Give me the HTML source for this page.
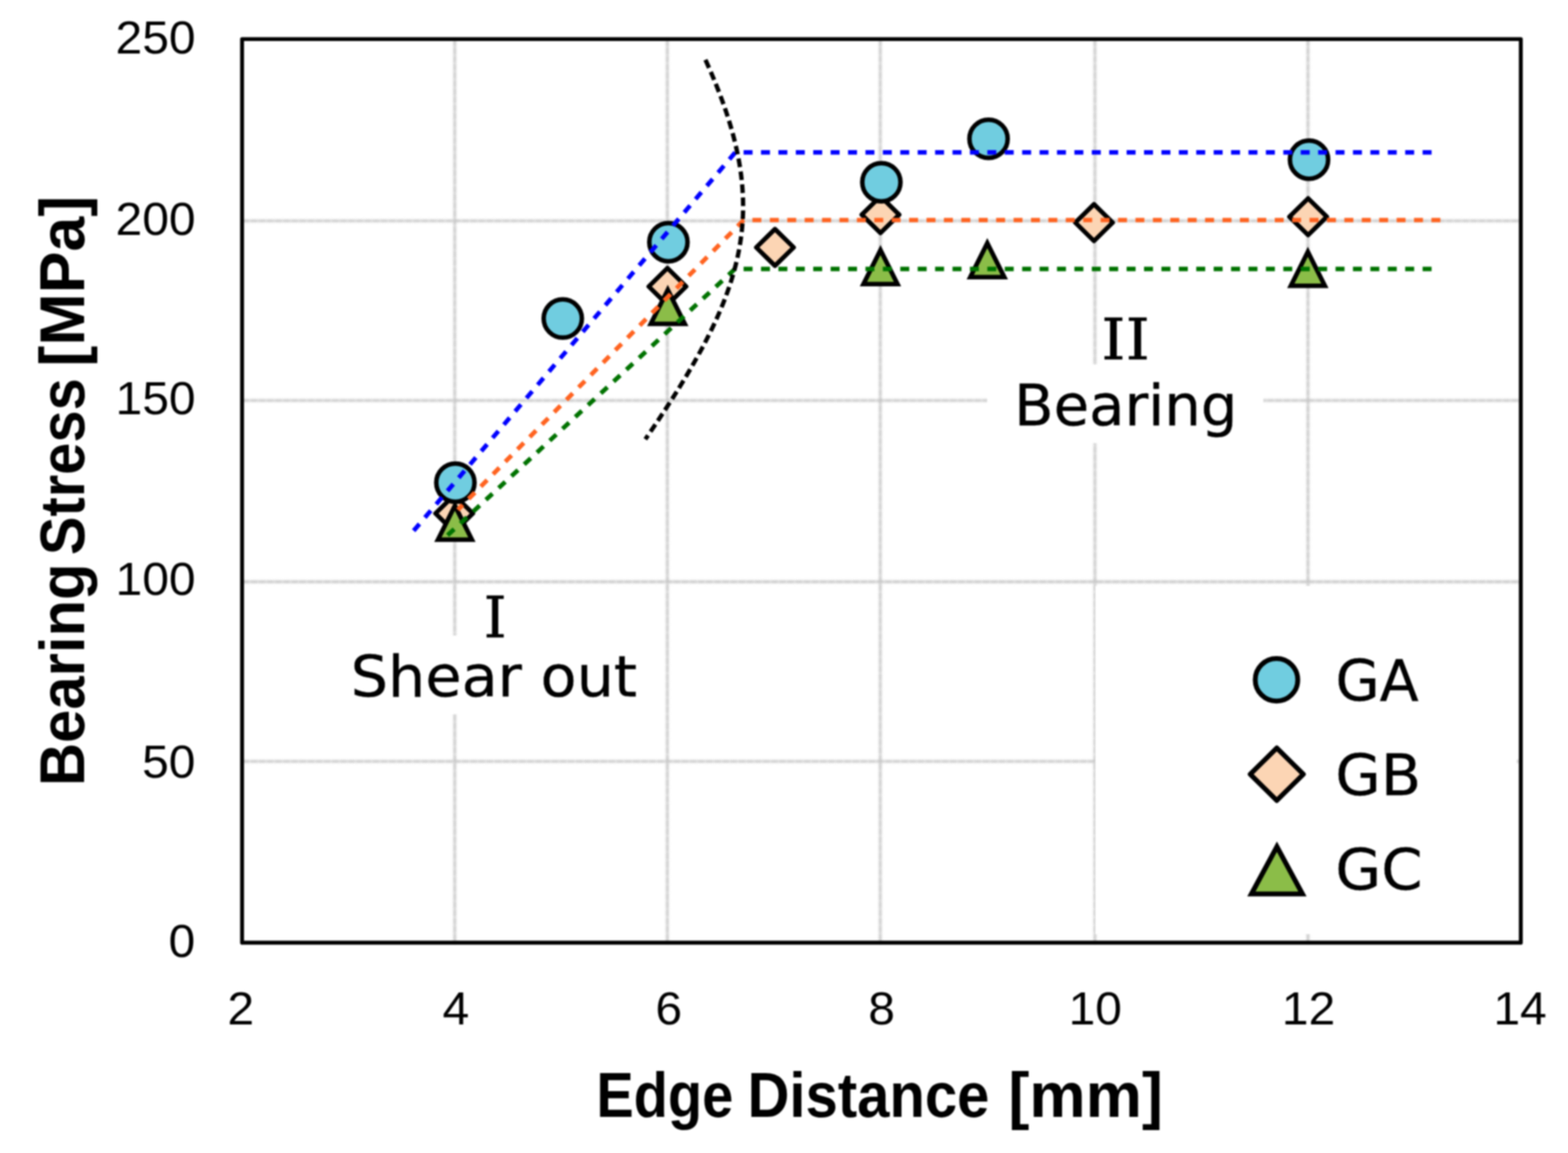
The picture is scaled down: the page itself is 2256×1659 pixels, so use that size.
<!DOCTYPE html>
<html lang="en"><head><meta charset="utf-8"><title>Bearing Stress vs Edge Distance</title>
<style>
html,body{margin:0;padding:0;background:#fff;}
body{width:2256px;height:1659px;overflow:hidden;}
svg{display:block;}
text{fill:#000;}
.tick{font-family:"Liberation Sans",sans-serif;font-size:67px;}
.title{font-family:"Liberation Sans",sans-serif;font-weight:bold;font-size:90px;}
.ann{font-family:"DejaVu Sans","Liberation Sans",sans-serif;font-size:82px;stroke:#000;stroke-width:0.5px;}
.rom{font-family:"DejaVu Serif","Liberation Serif",serif;font-size:82px;stroke:#000;stroke-width:0.7px;}
</style></head><body>
<svg width="2256" height="1659" viewBox="0 0 2256 1659">
<defs><filter id="soft" color-interpolation-filters="sRGB" filterUnits="userSpaceOnUse" x="0" y="0" width="2256" height="1659"><feGaussianBlur stdDeviation="1.0"/></filter>
<filter id="gsoft" color-interpolation-filters="sRGB" filterUnits="userSpaceOnUse" x="0" y="0" width="2256" height="1659"><feGaussianBlur stdDeviation="1.5"/></filter></defs>
<rect width="2256" height="1659" fill="#fff"/>
<g filter="url(#soft)">

<g stroke="#c4c4c4" stroke-width="3.6" fill="none" stroke-dasharray="10.9 0.8" filter="url(#gsoft)">
<line x1="654.3" y1="56.3" x2="654.3" y2="1356.4"/>
<line x1="960.2" y1="56.3" x2="960.2" y2="1356.4"/>
<line x1="1266.5" y1="56.3" x2="1266.5" y2="1356.4"/>
<line x1="1575.4" y1="56.3" x2="1575.4" y2="1356.4"/>
<line x1="1881.9" y1="56.3" x2="1881.9" y2="1356.4"/>
<line x1="348.3" y1="317.8" x2="2188.1" y2="317.8"/>
<line x1="348.3" y1="576.2" x2="2188.1" y2="576.2"/>
<line x1="348.3" y1="837.1" x2="2188.1" y2="837.1"/>
<line x1="348.3" y1="1095.5" x2="2188.1" y2="1095.5"/>
</g>
<g fill="#fff">
<rect x="1420.3" y="524.4" width="397.4" height="113.2"/>
<rect x="464" y="914.4" width="492" height="113.2"/>
<rect x="1576" y="843" width="606" height="501"/>
</g>
<rect x="348.3" y="56.3" width="1839.8" height="1300.1" fill="none" stroke="#000" stroke-width="5.6" stroke-linejoin="round"/>
<path d="M626.6 738.8L653.5 712.4L680.4 738.8L653.5 765.2Z" fill="#fcd5b4" stroke="#000" stroke-width="6.5" stroke-linejoin="round"/>
<path d="M933.4 412.2L960.3 385.8L987.2 412.2L960.3 438.6Z" fill="#fcd5b4" stroke="#000" stroke-width="6.5" stroke-linejoin="round"/>
<path d="M1088.1 356L1115 329.6L1141.9 356L1115 382.4Z" fill="#fcd5b4" stroke="#000" stroke-width="6.5" stroke-linejoin="round"/>
<path d="M1239.9 308.9L1266.8 282.5L1293.7 308.9L1266.8 335.3Z" fill="#fcd5b4" stroke="#000" stroke-width="6.5" stroke-linejoin="round"/>
<path d="M1547.1 320.3L1574 293.9L1600.9 320.3L1574 346.7Z" fill="#fcd5b4" stroke="#000" stroke-width="6.5" stroke-linejoin="round"/>
<path d="M1855.2 311.9L1882.1 285.5L1909.0 311.9L1882.1 338.3Z" fill="#fcd5b4" stroke="#000" stroke-width="6.5" stroke-linejoin="round"/>
<circle cx="655.2" cy="694.4" r="27.5" fill="#70cde0" stroke="#000" stroke-width="6.5"/>
<circle cx="809.7" cy="458.3" r="27.5" fill="#70cde0" stroke="#000" stroke-width="6.5"/>
<circle cx="961.7" cy="348.4" r="27.5" fill="#70cde0" stroke="#000" stroke-width="6.5"/>
<circle cx="1268.1" cy="262.2" r="27.5" fill="#70cde0" stroke="#000" stroke-width="6.5"/>
<circle cx="1422.3" cy="199.7" r="27.5" fill="#70cde0" stroke="#000" stroke-width="6.5"/>
<circle cx="1883.4" cy="229.7" r="27.5" fill="#70cde0" stroke="#000" stroke-width="6.5"/>
<path d="M630.0 776.6L654.5 727.6L679.0 776.6Z" fill="#8bbd48" stroke="#000" stroke-width="6.5" stroke-linejoin="miter"/>
<path d="M936.3 466L960.8 417.0L985.3 466Z" fill="#8bbd48" stroke="#000" stroke-width="6.5" stroke-linejoin="miter"/>
<path d="M1242.3 408.7L1266.8 359.7L1291.3 408.7Z" fill="#8bbd48" stroke="#000" stroke-width="6.5" stroke-linejoin="miter"/>
<path d="M1396.0 398.7L1420.5 349.7L1445.0 398.7Z" fill="#8bbd48" stroke="#000" stroke-width="6.5" stroke-linejoin="miter"/>
<path d="M1857.2 411.3L1881.7 362.3L1906.2 411.3Z" fill="#8bbd48" stroke="#000" stroke-width="6.5" stroke-linejoin="miter"/>
<path d="M2059.7 219.2L1058 219.2L594 765" stroke="#0000ff" stroke-width="6.4" fill="none" stroke-dasharray="12.9 12.15"/>
<path d="M2072.4 316.6L1070 316.6L658.8 733.5" stroke="#ff6320" stroke-width="6.4" fill="none" stroke-dasharray="12.9 12.15"/>
<path d="M2059.7 387L1057.5 387L644 770.2" stroke="#007200" stroke-width="6.4" fill="none" stroke-dasharray="12.9 12.15"/>
<path d="M1015 86C1110.7 298 1078.2 414.2 928.5 632" stroke="#000" stroke-width="6.2" fill="none" stroke-dasharray="12.4 6.37"/>
<circle cx="1836.6" cy="978.2" r="30.6" fill="#70cde0" stroke="#000" stroke-width="7.0"/>
<path d="M1798.8 1114L1837 1076.2L1875.2 1114L1837 1151.8Z" fill="#fcd5b4" stroke="#000" stroke-width="7.0" stroke-linejoin="round"/>
<path d="M1800.5 1286.2L1837.2 1218.2L1873.9 1286.2Z" fill="#8bbd48" stroke="#000" stroke-width="7.1" stroke-linejoin="miter"/>
<text class="tick" transform="translate(242.6 1377.0) scale(1.0300 1)">0</text>
<text class="tick" transform="translate(166.3 76.9) scale(1.0300 1)">250</text>
<text class="tick" transform="translate(166.3 338.0) scale(1.0300 1)">200</text>
<text class="tick" transform="translate(166.3 595.8) scale(1.0300 1)">150</text>
<text class="tick" transform="translate(166.3 855.8) scale(1.0300 1)">100</text>
<text class="tick" transform="translate(204.4 1118.5) scale(1.0300 1)">50</text>
<text class="tick" transform="translate(327.3 1474.3) scale(1.0300 1)">2</text>
<text class="tick" transform="translate(2148.7 1474.3) scale(1.0300 1)">14</text>
<text class="tick" transform="translate(636.7 1474.3) scale(1.0300 1)">4</text>
<text class="tick" transform="translate(942.9 1474.3) scale(1.0300 1)">6</text>
<text class="tick" transform="translate(1249.2 1474.3) scale(1.0300 1)">8</text>
<text class="tick" transform="translate(1537.5 1474.3) scale(1.0300 1)">10</text>
<text class="tick" transform="translate(1844.3 1474.3) scale(1.0300 1)">12</text>
<text class="title" y="1606.7"><tspan x="858.1" textLength="197.1" lengthAdjust="spacingAndGlyphs">Edge</tspan> <tspan x="1075.6" textLength="347.9" lengthAdjust="spacingAndGlyphs">Distance</tspan> <tspan x="1450.7" textLength="222.6" lengthAdjust="spacingAndGlyphs">[mm]</tspan></text>
<text class="title" transform="rotate(-90)" y="121.0"><tspan x="-1131.1" textLength="320.5" lengthAdjust="spacingAndGlyphs">Bearing</tspan> <tspan x="-798.8" textLength="254.6" lengthAdjust="spacingAndGlyphs">Stress</tspan> <tspan x="-527.4" textLength="245.8" lengthAdjust="spacingAndGlyphs">[MPa]</tspan></text>
<text class="rom" transform="translate(695.7 917.2) scale(1.0261 1)">I</text>
<text class="ann" transform="translate(504.6 1002) scale(1.0332 1)">Shear out</text>
<text class="rom" transform="translate(1584.6 516.5) scale(1.0764 1)">II</text>
<text class="ann" transform="translate(1459.1 612) scale(1.0123 1)">Bearing</text>
<text class="ann" transform="translate(1921.4 1008.1) scale(1.0009 1)">GA</text>
<text class="ann" transform="translate(1921.2 1144.1) scale(1.0303 1)">GB</text>
<text class="ann" transform="translate(1921.2 1280.1) scale(1.0387 1)">GC</text>
</g></svg></body></html>
